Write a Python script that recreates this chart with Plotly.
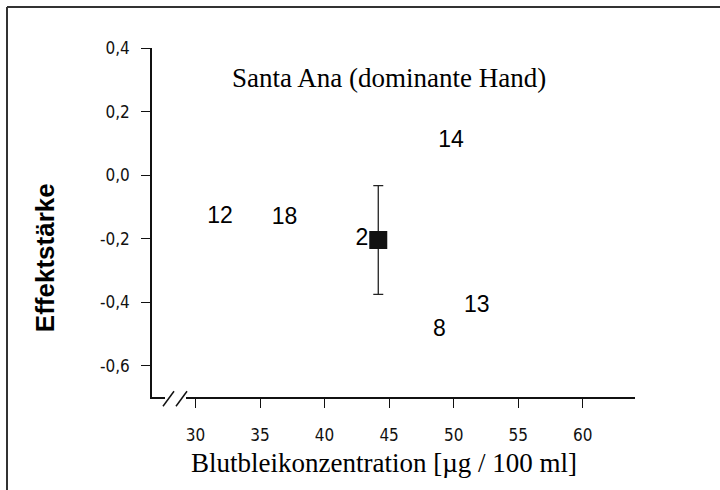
import plotly.graph_objects as go

# Data
subjects = ["12", "18", "2", "14", "8", "13"]
blood_lead = [31.9, 36.9, 42.9, 49.8, 48.9, 51.8]
effect_size = [-0.134, -0.135, -0.202, 0.108, -0.488, -0.412]

mean_lead = [44.16]
mean_effect = [-0.204]
mean_err = [0.171]

y_ticks = [0.4, 0.2, 0.0, -0.2, -0.4, -0.6]
y_ticktext = ["0,4", "0,2", "0,0", "-0,2", "-0,4", "-0,6"]
x_ticks = [30, 35, 40, 45, 50, 55, 60]
x_ticktext = ["30", "35", "40", "45", "50", "55", "60"]

fig = go.Figure()
fig.add_trace(go.Scatter(
    x=blood_lead, y=effect_size, mode="text", text=subjects,
    textfont=dict(family="Liberation Sans, Arial", size=23, color="#000"),
    textposition="middle center", showlegend=False, cliponaxis=False))
fig.add_trace(go.Scatter(
    x=mean_lead, y=mean_effect, mode="markers",
    marker=dict(symbol="square", size=18, color="#111"),
    error_y=dict(type="data", array=mean_err, visible=True, color="#222",
                 thickness=1.3, width=5),
    showlegend=False))

L, R, T, B = 152, 635, 48, 396.7
W, H = 720, 490
def px(x):
    return (x - L) / (R - L)
def py(y):
    return (B - y) / (B - T)

shapes = [
    # outer frame (top and left edges visible)
    dict(type="line", xref="paper", yref="paper", x0=px(7), x1=px(730),
         y0=py(7), y1=py(7), line=dict(color="#333", width=2)),
    dict(type="line", xref="paper", yref="paper", x0=px(7), x1=px(7),
         y0=py(7), y1=py(500), line=dict(color="#333", width=2)),
    # axis break
    dict(type="rect", xref="paper", yref="paper", x0=px(165), x1=px(186),
         y0=py(400), y1=py(393), line=dict(width=0), fillcolor="white"),
    dict(type="line", xref="paper", yref="paper", x0=px(163), x1=px(174),
         y0=py(406), y1=py(391), line=dict(color="#111", width=1.5)),
    dict(type="line", xref="paper", yref="paper", x0=px(176), x1=px(187),
         y0=py(406), y1=py(391), line=dict(color="#111", width=1.5)),
]

tickfont = dict(family="Liberation Sans Narrow, DejaVu Sans Condensed, Arial",
                size=17, color="#111")

fig.update_layout(
    width=W, height=H,
    margin=dict(l=L, r=W - R, t=T, b=H - B, pad=0),
    paper_bgcolor="white", plot_bgcolor="white",
    shapes=shapes,
    xaxis=dict(range=[26.63, 64.05], tickvals=x_ticks, ticktext=x_ticktext,
               showgrid=False, zeroline=False, showline=True, linecolor="#111",
               linewidth=1.5, ticks="outside", ticklen=9, tickcolor="#111",
               tickfont=tickfont, ticklabelstandoff=13),
    yaxis=dict(range=[-0.698, 0.4], tickvals=y_ticks, ticktext=y_ticktext,
               showgrid=False, zeroline=False, showline=True, linecolor="#111",
               linewidth=1.5, ticks="outside", ticklen=9, tickcolor="#111",
               tickfont=tickfont, ticklabelstandoff=8),
    annotations=[
        dict(text="Santa Ana (dominante Hand)", xref="paper", yref="paper",
             x=px(389), y=py(78), xanchor="center", yanchor="middle", showarrow=False,
             font=dict(family="Liberation Serif, Times New Roman", size=27, color="#000")),
        dict(text="Blutbleikonzentration [µg / 100 ml]", xref="paper", yref="paper",
             x=px(384), y=py(463), xanchor="center", yanchor="middle", showarrow=False,
             font=dict(family="Liberation Serif, Times New Roman", size=27, color="#000")),
        dict(text="<b>Effektstärke</b>", xref="paper", yref="paper",
             x=px(45), y=py(258), xanchor="center", yanchor="middle",
             showarrow=False, textangle=-90,
             font=dict(family="Liberation Sans, Arial", size=26, color="#000")),
    ],
)

fig.write_html("out.html")
